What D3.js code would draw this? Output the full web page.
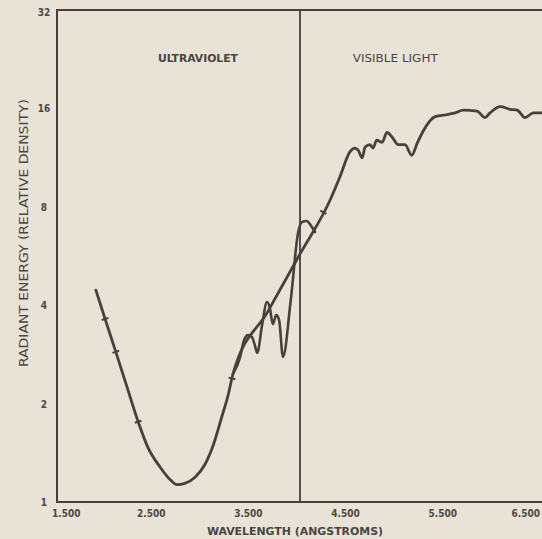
<!DOCTYPE html>
<html>
<head>
<meta charset="utf-8">
<script src="https://cdn.jsdelivr.net/npm/d3@7"></script>
<style>
  body { margin: 0; background: #e9e2d6; }
  svg { display: block; }
  .tick-label { font-family: "DejaVu Sans Condensed", "Liberation Sans Narrow", sans-serif; font-weight: bold; font-size: 10px; fill: #4d4844; }
  .title { font-family: "DejaVu Sans Condensed", "Liberation Sans Narrow", sans-serif; fill: #4a4541; }
</style>
</head>
<body>
<svg id="chart" width="542" height="539"></svg>
<script>
const xTicks = [1500, 2500, 3500, 4500, 5500, 6500]
const xTickLabels = ['1.500', '2.500', '3.500', '4.500', '5.500', '6.500']
const yTicks = [1, 2, 4, 8, 16, 32]
const regionBoundary = 4000
const regionNames = ['ULTRAVIOLET', 'VISIBLE LIGHT']
const regionCenters = [2950, 4980]

// smoothed curve: uv dip, straight fit through the near-uv, visible spectrum
const curveWavelengths = [1900, 1995, 2105, 2220, 2335, 2435, 2560, 2665, 2735, 2815, 2920, 3020, 3110, 3195, 3260, 3310,
  3670, 4000, 4310, 4410, 4515, 4565, 4600, 4640, 4670, 4720, 4750, 4790, 4845, 4895, 4945, 5010, 5080, 5150, 5205,
  5265, 5390, 5510, 5595, 5680, 5820, 5905, 5955, 6060, 6160, 6235, 6315, 6400, 6500]
const curveEnergy = [4.45, 3.63, 2.88, 2.25, 1.76, 1.47, 1.28, 1.17, 1.13, 1.14, 1.19, 1.30, 1.50, 1.82, 2.12, 2.46,
  3.83, 5.74, 8.39, 9.87, 11.8, 12.1, 11.9, 11.3, 12.2, 12.4, 12.1, 12.8, 12.6, 13.5, 13.1, 12.4, 12.4, 11.5, 12.5,
  13.6, 15.1, 15.3, 15.5, 15.8, 15.7, 15.0, 15.5, 16.2, 15.9, 15.8, 15.0, 15.5, 15.5]

// measured near-uv wiggles
const uvWavelengths = [3310, 3385, 3425, 3465, 3505, 3535, 3560, 3610, 3660, 3690, 3720, 3755, 3785, 3825, 3905,
  3980, 4020, 4070, 4115, 4155]
const uvEnergy = [2.46, 2.78, 3.13, 3.24, 3.20, 3.02, 2.86, 3.48, 4.09, 3.92, 3.50, 3.73, 3.60, 2.78, 4.15,
  6.65, 7.19, 7.24, 6.99, 6.70]

// little cross ticks marked on the curve
const markWavelengths = [1995, 2105, 2335, 3300, 4240]

class SpectrumChart {
  constructor(selector) {
    this.svg = d3.select(selector)
    this.margin = {left: 57, right: 542, top: 10, bottom: 502}
    this.ink = '#46413d'
    this.x = d3.scaleLinear().domain([1500, 6500]).range([57, 543])
    this.y = d3.scaleLog().base(2).domain([1, 32]).range([502, 10])
  }

  frame() {
    const m = this.margin
    this.svg.append('rect')
      .attr('x', m.left).attr('y', m.top)
      .attr('width', m.right - m.left + 4).attr('height', m.bottom - m.top)
      .attr('fill', 'none').attr('stroke', this.ink).attr('stroke-width', 2)
    this.svg.append('line')
      .attr('x1', this.x(regionBoundary)).attr('x2', this.x(regionBoundary))
      .attr('y1', m.top).attr('y2', m.bottom)
      .attr('stroke', this.ink).attr('stroke-width', 1.8)
  }

  axes() {
    const labels = this.svg.append('g')
    xTicks.forEach((t, i) => {
      const el = labels.append('text').attr('class', 'tick-label')
        .attr('y', 517).text(xTickLabels[i])
      const w = el.node().getComputedTextLength()
      let cx = this.x(t) - 3
      cx = Math.max(52 + w / 2, Math.min(540 - w / 2, cx))
      el.attr('x', cx).attr('text-anchor', 'middle')
    })
    labels.selectAll('.ylab')
      .data(yTicks)
      .join('text')
      .attr('class', 'tick-label ylab')
      .attr('x', 44)
      .attr('y', (d) => Math.max(16, this.y(d) + 4))
      .attr('text-anchor', 'middle')
      .text((d) => d)

    this.svg.append('text').attr('class', 'title')
      .attr('x', 295).attr('y', 535)
      .attr('text-anchor', 'middle')
      .attr('font-size', 11).attr('font-weight', 'bold')
      .attr('textLength', 176).attr('lengthAdjust', 'spacingAndGlyphs')
      .text('WAVELENGTH (ANGSTROMS)')
    this.svg.append('text').attr('class', 'title')
      .attr('transform', 'translate(28, 233) rotate(-90)')
      .attr('text-anchor', 'middle')
      .attr('font-size', 12)
      .attr('textLength', 268).attr('lengthAdjust', 'spacingAndGlyphs')
      .text('RADIANT ENERGY (RELATIVE DENSITY)')

    this.svg.selectAll('.region')
      .data(regionNames)
      .join('text')
      .attr('class', 'title region')
      .attr('x', (d, i) => this.x(regionCenters[i]))
      .attr('y', 62)
      .attr('text-anchor', 'middle')
      .attr('font-size', 10.5)
      .attr('font-weight', (d, i) => i === 0 ? 'bold' : 'normal')
      .attr('textLength', (d, i) => i === 0 ? 80 : 85)
      .attr('lengthAdjust', 'spacingAndGlyphs')
      .text((d) => d)
  }

  curves() {
    const line = d3.line()
      .x((d) => this.x(d[0]))
      .y((d) => this.y(d[1]))
      .curve(d3.curveMonotoneX)
    const main = curveWavelengths.map((w, i) => [w, curveEnergy[i]])
    const uv = uvWavelengths.map((w, i) => [w, uvEnergy[i]])
    const g = this.svg.append('g')
    g.append('path').attr('d', line(main))
      .attr('fill', 'none').attr('stroke', this.ink)
      .attr('stroke-width', 2.8).attr('stroke-linejoin', 'round').attr('stroke-linecap', 'round')
    g.append('path').attr('d', line(uv))
      .attr('fill', 'none').attr('stroke', this.ink)
      .attr('stroke-width', 2.6).attr('stroke-linejoin', 'round').attr('stroke-linecap', 'round')

    // short perpendicular marks
    const px = main.map((d) => [this.x(d[0]), this.y(d[1])])
    markWavelengths.forEach((w) => {
      const i = d3.bisectLeft(curveWavelengths, w)
      const a = px[Math.max(0, i - 1)], b = px[Math.min(px.length - 1, i)]
      const t = (w - curveWavelengths[i - 1]) / (curveWavelengths[i] - curveWavelengths[i - 1])
      const cx = a[0] + (b[0] - a[0]) * t, cy = a[1] + (b[1] - a[1]) * t
      const len = Math.hypot(b[0] - a[0], b[1] - a[1])
      const nx = -(b[1] - a[1]) / len * 3.5, ny = (b[0] - a[0]) / len * 3.5
      g.append('line')
        .attr('x1', cx - nx).attr('y1', cy - ny)
        .attr('x2', cx + nx).attr('y2', cy + ny)
        .attr('stroke', this.ink).attr('stroke-width', 2)
    })
  }

  draw() {
    this.frame()
    this.axes()
    this.curves()
  }
}

new SpectrumChart('#chart').draw()
</script>
</body>
</html>
